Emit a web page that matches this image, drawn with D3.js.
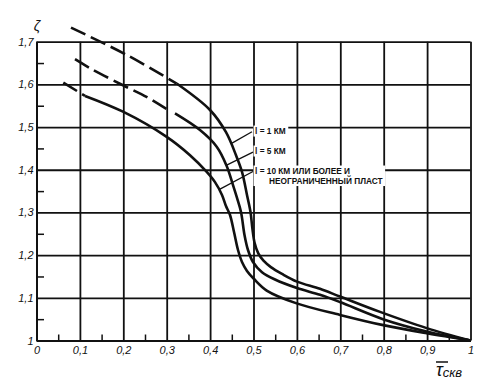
<!DOCTYPE html>
<html>
<head>
<meta charset="utf-8">
<script src="https://cdn.jsdelivr.net/npm/d3@7"></script>
<style>
body{margin:0;background:#fff;}
</style>
</head>
<body>
<div id="plot"></div>
<script>
// tick values
let xTicks = [0, 0.1, 0.2, 0.3, 0.4, 0.5, 0.6, 0.7, 0.8, 0.9, 1];
let yTicks = [1, 1.1, 1.2, 1.3, 1.4, 1.5, 1.6, 1.7];
let xMinor = [0.05, 0.15, 0.25, 0.35, 0.45, 0.55, 0.65, 0.75, 0.85, 0.95];
let yMinor = [1.05, 1.15, 1.25, 1.35, 1.45, 1.55, 1.65];

// curves [tau, zeta]
let curveL1 = [[0.0795,1.733],[0.2078,1.669],[0.323,1.602],[0.3998,1.540],[0.4366,1.488],[0.4597,1.434],
    [0.4735,1.395],[0.485,1.341],[0.4931,1.301],[0.4975,1.262],[0.5025,1.229],[0.511,1.204],[0.523,1.187],
    [0.54,1.172],[0.5657,1.156],[0.6002,1.138],[0.6532,1.121],[0.6993,1.103],[0.7915,1.067],[0.899,1.029],[1,1]];
let curveL5 = [[0.0887,1.659],[0.1302,1.634],[0.1993,1.598],[0.2546,1.570],[0.303,1.540],[0.3191,1.532],
    [0.3767,1.493],[0.4152,1.454],[0.4382,1.409],[0.4528,1.364],[0.462,1.334],[0.4712,1.301],[0.4793,1.247],
    [0.4873,1.212],[0.4988,1.184],[0.5196,1.160],[0.5495,1.143],[0.6002,1.123],[0.6532,1.107],[0.6993,1.090],
    [0.7984,1.050],[0.899,1.021],[1,1]];
let curveL10 = [[0.0618,1.604],[0.1118,1.573],[0.1993,1.536],[0.3,1.477],[0.3537,1.434],[0.3922,1.395],
    [0.4113,1.371],[0.4274,1.341],[0.4366,1.315],[0.4459,1.294],[0.4551,1.254],[0.4643,1.212],[0.4735,1.184],
    [0.485,1.163],[0.5012,1.144],[0.5304,1.117],[0.5995,1.087],[0.6993,1.060],[0.7991,1.036],[0.899,1.017],[1,1]];
let curves = [curveL1, curveL5, curveL10];
let dashEnds = [0.323, 0.31, 0.1118];   // extrapolated (dashed) part ends here

// labels on the curves
let labelLines = [["l = 1 КМ"], ["l = 5 КМ"], ["l = 10 КМ ИЛИ БОЛЕЕ И", "НЕОГРАНИЧЕННЫЙ ПЛАСТ"]];
let labelAt = [[0.5035,1.4836],[0.5035,1.4368],[0.5035,1.390]];
let leaderFrom = [[0.4965,1.489],[0.4988,1.4415],[0.4988,1.3958]];
let leaderTo = [[0.4505,1.4625],[0.4382,1.411],[0.4228,1.3548]];

let W = 494, H = 389;
let svg = d3.select("#plot").append("svg")
    .attr("width", W).attr("height", H)
    .style("font-family", "Liberation Sans, Arial, sans-serif");

let x = d3.scaleLinear().domain([0, 1]).range([36.5, 470.5]);
let y = d3.scaleLinear().domain([1, 1.7]).range([340.5, 41.7]);

let fmt = d => d3.format("~g")(d).replace(".", ",");
let ink = "#111";

// grid + axes
let gx = svg.append("g")
    .attr("transform", "translate(0," + y(1) + ")")
    .call(d3.axisBottom(x).tickValues(xTicks).tickSize(-(y(1) - y(1.7))).tickSizeOuter(0).tickPadding(6).tickFormat(fmt));
let gy = svg.append("g")
    .attr("transform", "translate(" + x(0) + ",0)")
    .call(d3.axisLeft(y).tickValues(yTicks).tickSize(-(x(1) - x(0))).tickSizeOuter(0).tickPadding(3).tickFormat(fmt));

[gx, gy].forEach(g => {
    g.selectAll("line").attr("stroke", ink).attr("stroke-width", 1.8);
    g.select(".domain").attr("stroke", ink).attr("stroke-width", 2);
    g.selectAll("text")
        .attr("fill", ink)
        .style("font-size", "11px")
        .style("font-style", "italic");
});

// minor ticks
svg.append("g")
    .attr("transform", "translate(0," + y(1) + ")")
    .call(d3.axisBottom(x).tickValues(xMinor).tickSize(-6).tickFormat(""))
    .call(g => g.select(".domain").remove())
    .selectAll("line").attr("stroke", ink).attr("stroke-width", 1.5);
svg.append("g")
    .attr("transform", "translate(" + x(0) + ",0)")
    .call(d3.axisLeft(y).tickValues(yMinor).tickSize(-7.5).tickFormat(""))
    .call(g => g.select(".domain").remove())
    .selectAll("line").attr("stroke", ink).attr("stroke-width", 1.5);

// curve labels (white box hides the grid behind them)
labelLines.forEach((lines, i) => {
    let g = svg.append("g");
    let t = g.append("text")
        .attr("x", x(labelAt[i][0]))
        .attr("y", y(labelAt[i][1]))
        .attr("fill", ink)
        .style("font-size", "8.3px")
        .style("font-weight", "bold");
    lines.forEach((s, j) => {
        t.append("tspan")
            .attr("x", x(labelAt[i][0]) + (j > 0 ? 14 : 0))
            .attr("dy", j > 0 ? 9.5 : 0)
            .text(s);
    });
    let b = t.node().getBBox();
    g.insert("rect", "text")
        .attr("x", b.x - 1.5).attr("y", b.y - 0.5)
        .attr("width", b.width + 4).attr("height", b.height + 1)
        .attr("fill", "#fff");
});

// leader lines
svg.append("g")
    .selectAll("line")
    .data(leaderFrom)
    .enter()
    .append("line")
    .attr("x1", d => x(d[0]))
    .attr("y1", d => y(d[1]))
    .attr("x2", (d, i) => x(leaderTo[i][0]))
    .attr("y2", (d, i) => y(leaderTo[i][1]))
    .attr("stroke", ink)
    .attr("stroke-width", 1.3);

// curves
let line = d3.line()
    .x(d => x(d[0]))
    .y(d => y(d[1]))
    .curve(d3.curveCatmullRom.alpha(0.5));

curves.forEach((c, i) => {
    svg.append("path")
        .datum(c.filter(d => d[0] <= dashEnds[i]))
        .attr("fill", "none")
        .attr("stroke", ink)
        .attr("stroke-width", 2.6)
        .style("stroke-dasharray", "16,6")
        .attr("d", line);
    svg.append("path")
        .datum(c.filter(d => d[0] >= dashEnds[i]))
        .attr("fill", "none")
        .attr("stroke", ink)
        .attr("stroke-width", 2.6)
        .attr("d", line);
});

// axis names
svg.append("text")
    .attr("x", 37).attr("y", 31)
    .attr("text-anchor", "middle")
    .attr("fill", ink)
    .style("font-size", "14px")
    .style("font-style", "italic")
    .text("ζ");

let xt = svg.append("text")
    .attr("x", 436).attr("y", 376)
    .attr("fill", ink)
    .style("font-style", "italic");
xt.append("tspan").style("font-size", "18px").text("τ");
xt.append("tspan").style("font-size", "13px").attr("dy", 1).text("скв");
svg.append("line")
    .attr("x1", 436).attr("x2", 448)
    .attr("y1", 362).attr("y2", 362)
    .attr("stroke", ink).attr("stroke-width", 1.5);
</script>
</body>
</html>
